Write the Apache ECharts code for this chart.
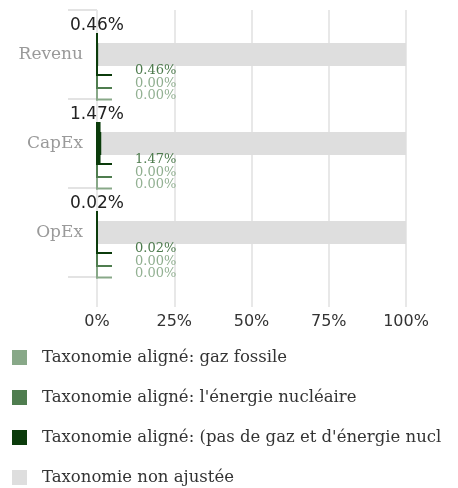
<!DOCTYPE html>
<html>
<head>
<meta charset="utf-8">
<script src="https://cdn.jsdelivr.net/npm/echarts@6/dist/echarts.min.js"></script>
<style>html,body{margin:0;padding:0;background:#fff}#c{width:458px;height:488px}</style>
</head>
<body>
<div id="c"></div>
<script>
var categories = ['Revenu', 'CapEx', 'OpEx'];
var fossilGas = [0.00, 0.00, 0.00];
var nuclear = [0.00, 0.00, 0.00];
var otherAligned = [0.46, 1.47, 0.02];
var nonAligned = [99.54, 98.53, 99.98];
var xTicks = [0, 25, 50, 75, 100];

var NAME_FOSSIL = 'Taxonomie aligné: gaz fossile';
var NAME_NUC = "Taxonomie aligné: l'énergie nucléaire";
var NAME_OTHER = "Taxonomie aligné: (pas de gaz et d'énergie nucléaire)";
var NAME_NON = 'Taxonomie non ajustée';

var C_FOSSIL = '#88a888';
var C_NUC = '#4f7d4f';
var C_OTHER = '#0b3b0b';
var C_NON = '#dedede';

function pairs(arr) { return arr.map(function (v, i) { return [v, i]; }); }

function bracket(cfg) {
  return function (params, api) {
    var v = api.value(0), ci = api.value(1);
    var p0 = api.coord([0, ci]);
    var p1 = api.coord([v, ci]);
    var band = api.size([0, 1])[1];
    var x0 = p0[0], cy = p0[1];
    var top = cy + cfg.t * band, bot = cy + cfg.b * band;
    var w = Math.max(p1[0] - x0, 2);
    var children = [
      { type: 'rect', shape: { x: x0 - 1, y: top, width: w, height: bot - top + 1 }, style: { fill: cfg.color } },
      { type: 'rect', shape: { x: x0 - 1, y: bot - 1, width: 16, height: 2 }, style: { fill: cfg.color } },
      { type: 'text', style: { text: v.toFixed(2) + '%', x: x0 + 38, y: bot - 4, verticalAlign: 'middle', align: 'left', font: '13px "DejaVu Serif"', fill: cfg.labelColor } }
    ];
    if (cfg.topLabel) {
      children.push({ type: 'text', style: { text: v.toFixed(2) + '%', x: x0, y: top - 7, verticalAlign: 'middle', align: 'center', font: '17px "DejaVu Sans"', fill: '#222' } });
    }
    return { type: 'group', children: children };
  };
}

var chart = echarts.init(document.getElementById('c'));
chart.setOption({
  animation: false,
  grid: { left: 97, right: 52, top: 10, bottom: 211, containLabel: false },
  xAxis: {
    type: 'value', min: 0, max: 100, interval: 25,
    axisLine: { show: false },
    axisTick: { show: true, length: 30, lineStyle: { color: '#e8e8e8', width: 2 } },
    splitLine: { show: true, lineStyle: { color: '#e8e8e8', width: 2 } },
    axisLabel: { formatter: '{value}%', margin: 37, fontSize: 16, fontFamily: 'DejaVu Sans', color: '#333' }
  },
  yAxis: {
    type: 'category', data: categories, inverse: true,
    axisLine: { show: false },
    axisTick: { show: true, length: 29, lineStyle: { color: '#e3e3e3', width: 2 } },
    axisLabel: { margin: 14, fontSize: 17, fontFamily: 'DejaVu Serif', color: '#9a9a9a' }
  },
  legend: {
    type: 'plain', orient: 'vertical', left: 12, top: 349, padding: 0,
    itemWidth: 15, itemHeight: 15, itemGap: 23, icon: 'rect',
    data: [NAME_FOSSIL, NAME_NUC, NAME_OTHER, NAME_NON],
    textStyle: { fontSize: 16.5, fontFamily: 'DejaVu Serif', color: '#333', lineHeight: 17, width: 412, overflow: 'truncate', ellipsis: '', padding: [0, 0, 0, 10] }
  },
  series: [
    { name: NAME_OTHER, type: 'bar', stack: 'tot', barWidth: 23, data: otherAligned, itemStyle: { color: C_OTHER } },
    { name: NAME_NON, type: 'bar', stack: 'tot', barWidth: 23, data: nonAligned, itemStyle: { color: C_NON } },
    { name: NAME_FOSSIL, type: 'custom', data: pairs(fossilGas), encode: { x: 0, y: 1 }, itemStyle: { color: C_FOSSIL }, z: 5,
      renderItem: bracket({ t: 33.5 / 89, b: 45 / 89, color: C_FOSSIL, labelColor: '#93b193' }) },
    { name: NAME_NUC, type: 'custom', data: pairs(nuclear), encode: { x: 0, y: 1 }, itemStyle: { color: C_NUC }, z: 5,
      renderItem: bracket({ t: 20.5 / 89, b: 33.5 / 89, color: C_NUC, labelColor: '#8fae8f' }) },
    { name: NAME_OTHER, type: 'custom', data: pairs(otherAligned), encode: { x: 0, y: 1 }, itemStyle: { color: C_OTHER }, z: 6,
      renderItem: bracket({ t: -21.5 / 89, b: 20.5 / 89, color: C_OTHER, labelColor: '#4d7b4d', topLabel: true }) }
  ]
});
</script>
</body>
</html>
